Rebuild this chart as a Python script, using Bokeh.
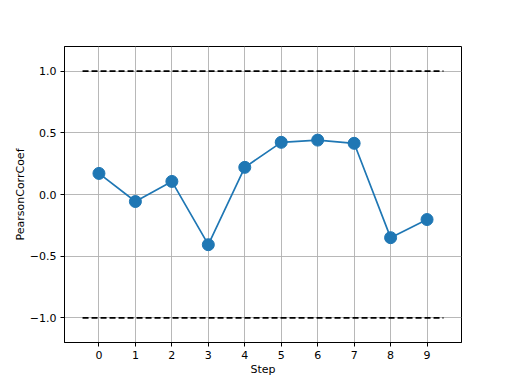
from bokeh.plotting import figure
from bokeh.models import Range1d, FixedTicker
from bokeh.embed import file_html
from bokeh.resources import INLINE

steps = [0, 1, 2, 3, 4, 5, 6, 7, 8, 9]
pearson = [0.171, -0.057, 0.106, -0.407, 0.22, 0.423, 0.441, 0.415, -0.35, -0.203]
bounds = [1.0, -1.0]
bound_x = [-0.45, 9.45]
y_ticks = [-1.0, -0.5, 0.0, 0.5, 1.0]
y_tick_labels = ["\u22121.0", "\u22120.5", "0.0", "0.5", "1.0"]

FONT = "DejaVu Sans"

p = figure(frame_width=397, frame_height=296, output_backend="svg",
           toolbar_location=None, min_border_left=64, min_border_right=42,
           min_border_top=46, min_border_bottom=0,
           x_range=Range1d(-0.945, 9.945), y_range=Range1d(-1.2, 1.2),
           background_fill_color="white", border_fill_color="white")

p.outline_line_color = "black"
p.outline_line_width = 1

for b in bounds:
    p.line(bound_x, [b, b], line_color="black", line_width=1.7, line_dash="6 3")

p.line(steps, pearson, line_color="#1f77b4", line_width=1.7)
p.scatter(steps, pearson, size=12, fill_color="#1f77b4", line_color="#1f77b4")

p.xaxis.ticker = FixedTicker(ticks=steps)
p.yaxis.ticker = FixedTicker(ticks=y_ticks)
p.yaxis.major_label_overrides = {t: l for t, l in zip(y_ticks, y_tick_labels)}

for ax in (p.xaxis[0], p.yaxis[0]):
    ax.major_label_text_font = FONT
    ax.major_label_text_font_size = "11px"
    ax.major_label_text_color = "black"
    ax.axis_label_text_font = FONT
    ax.axis_label_text_font_size = "11px"
    ax.axis_label_text_font_style = "normal"
    ax.axis_label_text_color = "black"
    ax.major_tick_out = 4
    ax.major_tick_in = 0
    ax.minor_tick_out = 0
    ax.minor_tick_in = 0
    ax.axis_line_color = "black"
    ax.major_tick_line_color = "black"
    ax.major_label_standoff = 4

p.xaxis.axis_label = "Step"
p.yaxis.axis_label = "PearsonCorrCoef"
p.xaxis.axis_label_standoff = 1
p.yaxis.axis_label_standoff = 0

p.grid.grid_line_color = "#b0b0b0"
p.grid.grid_line_width = 0.9

open("out.html", "w").write(file_html(p, INLINE))
